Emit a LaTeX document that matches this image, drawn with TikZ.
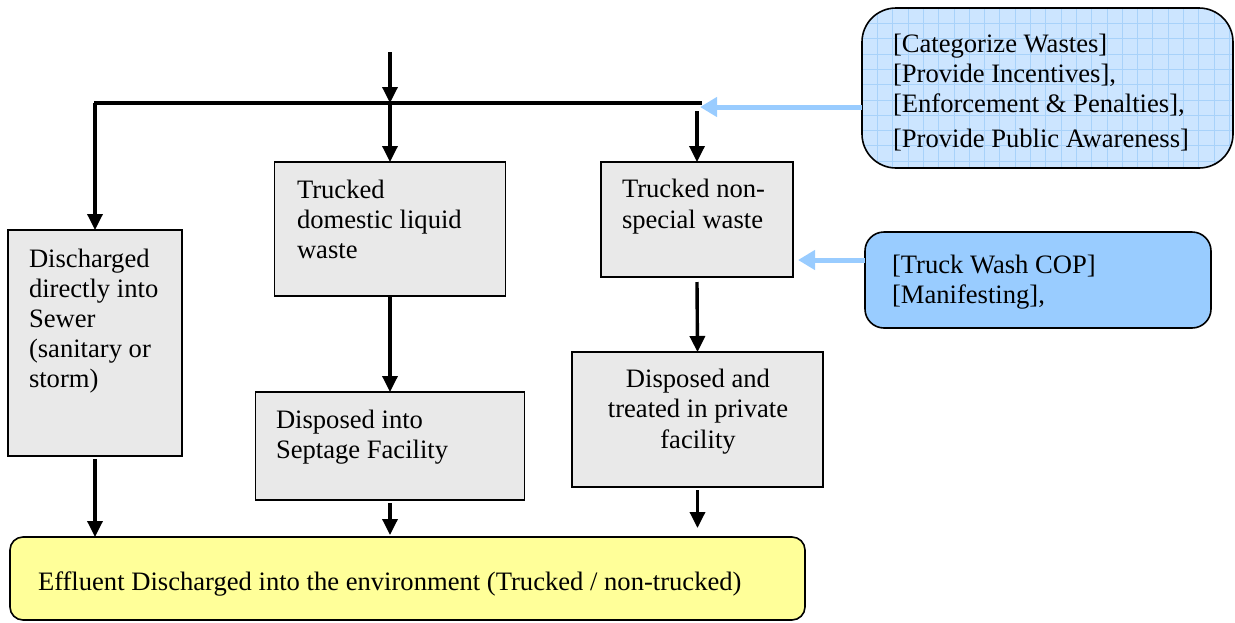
\documentclass[tikz,border=0pt]{standalone}
\usepackage{fontspec}
\setmainfont{Liberation Serif}
\usetikzlibrary{arrows.meta}

\definecolor{boxgray}{HTML}{E9E9E9}
\definecolor{gridfill}{HTML}{CCE5FF}
\definecolor{gridline}{HTML}{A8D2FA}
\definecolor{notefill}{HTML}{99CCFF}
\definecolor{hintblue}{HTML}{99CCFF}
\definecolor{effluent}{HTML}{FFFF99}

\tikzset{
  every node/.style={inner sep=0pt, outer sep=0pt},
  stepbox/.style={draw=black, line width=1.6pt, fill=boxgray, rectangle},
  % multi-line texts are placed by the baseline of their last line
  txt/.style={font=\fontsize{26.6}{30}\selectfont, anchor=base west, align=left},
  ctxt/.style={font=\fontsize{26.6}{30.5}\selectfont, anchor=base, align=center},
  flow/.style={draw=black, line width=3.4pt, -{Triangle[length=16pt,width=15pt]}},
  bar/.style={draw=black, line width=3.2pt},
  hint/.style={draw=hintblue, line width=5pt, -{Triangle[length=17pt,width=19pt]}},
}

\begin{document}
\begin{tikzpicture}[x=1pt,y=-1pt]
\useasboundingbox (0,0) rectangle (1235,622);

% process boxes
\node[stepbox, minimum width=174pt, minimum height=226pt] (sewer) at (95,343) {};
\node[stepbox, minimum width=231pt, minimum height=134pt] (domestic) at (390,229) {};
\node[stepbox, minimum width=269pt, minimum height=108pt] (septage) at (390,446) {};
\node[stepbox, minimum width=192pt, minimum height=115pt] (nonspecial) at (697,219.5) {};
\node[stepbox, minimum width=251pt, minimum height=135pt] (private) at (697.5,419.5) {};
\node[draw=black, line width=1.6pt, fill=effluent, rounded corners=13pt,
      minimum width=795pt, minimum height=83pt] (env) at (407.5,578.5) {};

% measures box with a grid background
\node[draw=none, fill=gridfill, rounded corners=34pt,
      minimum width=371pt, minimum height=160pt] (measures) at (1047.5,88) {};
\begin{scope}
  \clip[rounded corners=34pt] (862,8) rectangle (1233,168);
  \foreach \i in {1,...,24} \draw[gridline, line width=0.6pt] (862+15.3*\i,8) -- (862+15.3*\i,168);
  \foreach \j in {1,...,10} \draw[gridline, line width=0.6pt] (862,8+15.3*\j) -- (1233,8+15.3*\j);
\end{scope}
\draw[black, line width=1.6pt, rounded corners=34pt] (862,8) rectangle (1233,168);

\node[draw=black, line width=1.6pt, fill=notefill, rounded corners=19pt,
      minimum width=346pt, minimum height=96pt] (truckwash) at (1038,280) {};

% texts
\node[txt] (tsewer) at (29,387) {Discharged\\directly into\\Sewer\\(sanitary or\\storm)};
\node[txt] (tdomestic) at (297,258) {Trucked\\domestic liquid\\waste};
\node[txt] (tseptage) at (276,458) {Disposed into\\Septage Facility};
\node[txt, font=\fontsize{26.6}{31}\selectfont] (tnonspecial) at (622,228) {Trucked non-\\special waste};
\node[ctxt] (tprivate) at (698,448) {Disposed and\\treated in private\\facility};
\node[txt] (tenv) at (38,590) {Effluent Discharged into the environment (Trucked / non-trucked)};
\node[txt] (tmeasures) at (893,147) {[Categorize Wastes]\\{}[Provide Incentives],\\{}[Enforcement \& Penalties],\\[5pt]{}[Provide Public Awareness]};
\node[txt] (ttruckwash) at (892,303) {[Truck Wash COP]\\{}[Manifesting],};

% distribution bar
\coordinate (feed) at (390,52);
\coordinate (midj) at (390,103);
\coordinate (leftj) at (94,103);
\coordinate (rightj) at (702,103);
\coordinate (rightdrop) at (697,111);
\draw[bar] (leftj) -- (rightj);
\draw[draw=black, line width=4.8pt] (283,103) -- (344,103);
\draw[flow] (feed) -- (midj);
\draw[flow] (95,103) -- (sewer.north);
\draw[flow] (midj) -- (domestic.north);
\draw[flow] (rightdrop) -- (nonspecial.north);

% flow between stages
\draw[flow] (domestic.south) -- (septage.north);
\draw[flow] ([yshift=-5pt]nonspecial.south) -- (private.north);
\draw[flow] ([yshift=-3pt]sewer.south) -- (sewer.south |- env.north);
\draw[flow] ([yshift=-3pt]septage.south) -- ([yshift=2pt]septage.south |- env.north);
\draw[flow] ([yshift=-3pt]private.south) -- ([yshift=9pt]private.south |- env.north);

% control measures
\coordinate (hintA) at (700,107);
\coordinate (hintB) at (798,260);
\draw[hint] (measures.west |- hintA) -- (hintA);
\draw[hint] (truckwash.west |- hintB) -- (hintB);
\end{tikzpicture}
\end{document}
